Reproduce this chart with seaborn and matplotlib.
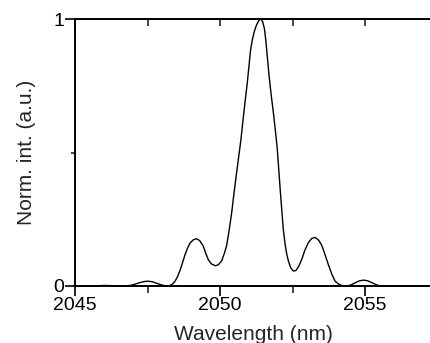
import matplotlib
matplotlib.use("Agg")
import matplotlib.pyplot as plt
import seaborn as sns
import pandas as pd
from matplotlib.ticker import FixedLocator

wavelength = [2045.0, 2045.6, 2046.0, 2046.4, 2046.7, 2046.95, 2047.1, 2047.25, 2047.4,
              2047.53, 2047.66, 2047.8, 2047.95, 2048.1, 2048.2, 2048.28, 2048.37, 2048.45,
              2048.54, 2048.62, 2048.71, 2048.79, 2048.88, 2048.97, 2049.08, 2049.19,
              2049.30, 2049.42, 2049.51, 2049.60, 2049.70, 2049.83, 2049.94, 2050.06,
              2050.15, 2050.23, 2050.31, 2050.40, 2050.48, 2050.57, 2050.64, 2050.72,
              2050.80, 2050.87, 2050.94, 2051.00, 2051.05, 2051.11, 2051.18, 2051.26,
              2051.34, 2051.41, 2051.47, 2051.53, 2051.58, 2051.63, 2051.69, 2051.76,
              2051.84, 2051.90, 2051.97, 2052.02, 2052.07, 2052.13, 2052.18, 2052.24,
              2052.30, 2052.36, 2052.44, 2052.53, 2052.62, 2052.72, 2052.82, 2052.93,
              2053.05, 2053.16, 2053.28, 2053.40, 2053.51, 2053.62, 2053.74, 2053.86,
              2053.97, 2054.09, 2054.20, 2054.37, 2054.52, 2054.66, 2054.80, 2054.94,
              2055.08, 2055.23, 2055.38, 2055.52, 2056.0, 2057.3]
intensity = [0.0, 0.0, 0.002, 0.001, 0.0, 0.003, 0.008, 0.013, 0.017,
             0.018, 0.016, 0.011, 0.005, 0.001, 0.0, 0.002, 0.008, 0.018,
             0.036, 0.058, 0.088, 0.116, 0.142, 0.161, 0.173, 0.177,
             0.170, 0.150, 0.122, 0.098, 0.083, 0.076, 0.079, 0.095,
             0.122, 0.152, 0.205, 0.272, 0.345, 0.422, 0.480, 0.547,
             0.628, 0.695, 0.760, 0.825, 0.880, 0.920, 0.952, 0.978,
             0.995, 1.0, 0.990, 0.965, 0.920, 0.860, 0.790, 0.720,
             0.650, 0.591, 0.520, 0.445, 0.370, 0.285, 0.215, 0.160,
             0.120, 0.093, 0.068, 0.056, 0.058, 0.075, 0.100, 0.135,
             0.163, 0.178, 0.182, 0.172, 0.152, 0.118, 0.079, 0.043,
             0.018, 0.007, 0.002, 0.0, 0.004, 0.012, 0.019, 0.022,
             0.020, 0.013, 0.005, 0.0, 0.0, 0.0]

x_major = [2045, 2050, 2055]
x_minor = [2047.5, 2052.5]
y_major = [0, 1]
y_labels = ["0", "1"]

df = pd.DataFrame({"wavelength": wavelength, "intensity": intensity})

sns.set_style("ticks")
plt.rcParams['font.family'] = ['Liberation Sans', 'DejaVu Sans']

fig = plt.figure(figsize=(4.31, 3.43), dpi=100)
ax = fig.add_axes([75/431, 57/343, (431-75)/431, (286-19)/343])

sns.lineplot(data=df, x="wavelength", y="intensity", ax=ax, color="black",
             linewidth=1.0, clip_on=False)

ax.set_xlim(2045, 2045 + (431-75)/29)
ax.set_ylim(0, 1)

ax.spines['right'].set_visible(False)
for s in ['left', 'bottom', 'top']:
    ax.spines[s].set_linewidth(1.4)
    ax.spines[s].set_color('black')

ax.xaxis.set_major_locator(FixedLocator(x_major))
ax.xaxis.set_minor_locator(FixedLocator(x_minor))
ax.yaxis.set_major_locator(FixedLocator(y_major))
ax.yaxis.set_minor_locator(FixedLocator([0.5]))
ax.set_yticklabels(y_labels)

ax.tick_params(axis='both', which='major', direction='out', length=7, width=1.2,
               labelsize=14, colors='black', pad=1)
ax.tick_params(axis='x', which='minor', direction='out', length=5, width=1.2)
ax.tick_params(axis='y', which='minor', direction='out', length=3, width=1.2)

top = ax.secondary_xaxis('top')
top.xaxis.set_major_locator(FixedLocator(x_major + x_minor))
top.tick_params(direction='in', length=5, width=1.2, labeltop=False)
top.spines['top'].set_linewidth(1.4)

ax.set_xlabel("Wavelength (nm)", fontsize=15, labelpad=7.5)
ax.set_ylabel("Norm. int. (a.u.)", fontsize=15, labelpad=12)

fig.savefig("out.png", dpi=100)
